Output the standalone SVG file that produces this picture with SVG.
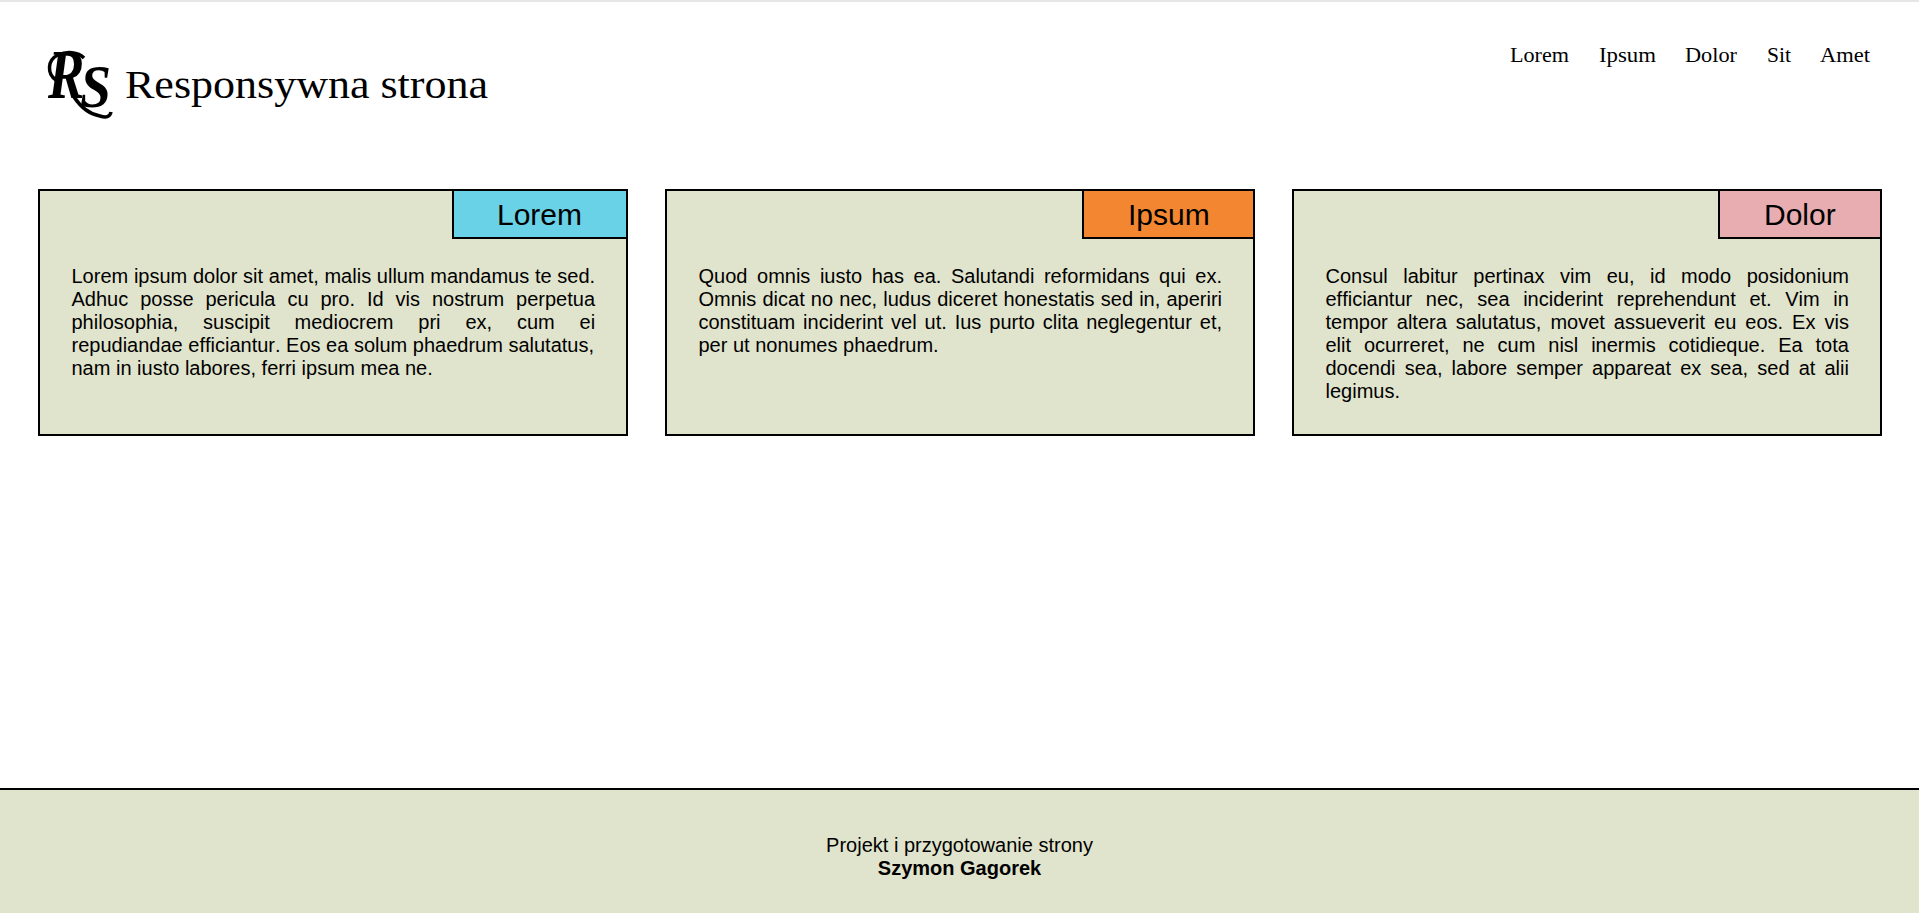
<svg xmlns="http://www.w3.org/2000/svg" width="1919" height="913" viewBox="0 0 1919 913">
<style>
.card{fill:#e0e4cc;stroke:#000;stroke-width:2}
.tab{stroke:#000;stroke-width:2}
text{fill:#000}
.b{font-family:"Liberation Sans",Arial,sans-serif;font-size:20px;white-space:pre;font-variant-ligatures:none;font-kerning:none}
.t{font-family:"Liberation Sans",Arial,sans-serif;font-size:30px}
.n{font-family:"Liberation Serif","Times New Roman",serif;font-size:21px}
.l{font-family:"Liberation Serif","Times New Roman",serif;font-style:italic;font-weight:700}
</style>
<rect width="1919" height="913" fill="#fff"/>
<rect width="1919" height="2" fill="#e6e6e6"/>
<g id="logo">
<text class="l" font-size="70" transform="translate(48 98) scale(.78 1)">R</text>
<text class="l" font-size="62" transform="translate(80 107) scale(.9 1)">S</text>
<path d="M56 80C47 74 47 60 58 55C67 51 78 52 84 58" fill="none" stroke="#000" stroke-width="3.5"/>
<path d="M74 97C80 106 88 114 100 116C106 118 110 117 111 112" fill="none" stroke="#000" stroke-width="3.5"/>
</g>
<g id="title"><text x="125" y="98" font-family="Liberation Serif,serif" font-size="40" textLength="363" lengthAdjust="spacingAndGlyphs">Responsywna strona</text></g>
<g id="nav" class="n">
<text class="n" x="1510" y="62" textLength="59" lengthAdjust="spacingAndGlyphs">Lorem</text>
<text class="n" x="1599" y="62" textLength="57" lengthAdjust="spacingAndGlyphs">Ipsum</text>
<text class="n" x="1685" y="62" textLength="52" lengthAdjust="spacingAndGlyphs">Dolor</text>
<text class="n" x="1767" y="62" textLength="24" lengthAdjust="spacingAndGlyphs">Sit</text>
<text class="n" x="1820" y="62" textLength="50" lengthAdjust="spacingAndGlyphs">Amet</text>
</g>
<g id="card1">
<rect class="card" x="39" y="190" width="588" height="245"/>
<rect class="tab" x="453" y="190" width="174" height="48" fill="#69d2e7"/>
<text class="t" x="497" y="225">Lorem</text>
<text class="b" x="71.5" y="283" word-spacing="0.13">Lorem ipsum dolor sit amet, malis ullum mandamus te sed.</text>
<text class="b" x="71.5" y="306" word-spacing="6.38">Adhuc posse pericula cu pro. Id vis nostrum perpetua</text>
<text class="b" x="71.5" y="329" word-spacing="19.27">philosophia, suscipit mediocrem pri ex, cum ei</text>
<text class="b" x="71.5" y="352" word-spacing="0">repudiandae efficiantur. Eos ea solum phaedrum salutatus,</text>
<text class="b" x="71.5" y="375">nam in iusto labores, ferri ipsum mea ne.</text>
</g>
<g id="card2">
<rect class="card" x="666" y="190" width="588" height="245"/>
<rect class="tab" x="1083" y="190" width="171" height="48" fill="#f38630"/>
<text class="t" x="1128" y="225">Ipsum</text>
<text class="b" x="698.5" y="283" word-spacing="4.02">Quod omnis iusto has ea. Salutandi reformidans qui ex.</text>
<text class="b" x="698.5" y="306" word-spacing="0.61">Omnis dicat no nec, ludus diceret honestatis sed in, aperiri</text>
<text class="b" x="698.5" y="329" word-spacing="2.35">constituam inciderint vel ut. Ius purto clita neglegentur et,</text>
<text class="b" x="698.5" y="352">per ut nonumes phaedrum.</text>
</g>
<g id="card3">
<rect class="card" x="1293" y="190" width="588" height="245"/>
<rect class="tab" x="1719" y="190" width="162" height="48" fill="#e8adb0"/>
<text class="t" x="1764" y="225">Dolor</text>
<text class="b" x="1325.5" y="283" word-spacing="9.98">Consul labitur pertinax vim eu, id modo posidonium</text>
<text class="b" x="1325.5" y="306" word-spacing="8.07">efficiantur nec, sea inciderint reprehendunt et. Vim in</text>
<text class="b" x="1325.5" y="329" word-spacing="3.45">tempor altera salutatus, movet assueverit eu eos. Ex vis</text>
<text class="b" x="1325.5" y="352" word-spacing="7.34">elit ocurreret, ne cum nisl inermis cotidieque. Ea tota</text>
<text class="b" x="1325.5" y="375" word-spacing="3.55">docendi sea, labore semper appareat ex sea, sed at alii</text>
<text class="b" x="1325.5" y="398">legimus.</text>
</g>
<g id="footer">
<rect x="0" y="788" width="1919" height="125" fill="#e0e4cc"/>
<rect x="0" y="788" width="1919" height="2" fill="#000"/>
<text class="b" x="959.5" y="852" text-anchor="middle">Projekt i przygotowanie strony</text>
<text class="b" x="959.5" y="875" text-anchor="middle" font-weight="700">Szymon Gagorek</text>
</g>
</svg>
